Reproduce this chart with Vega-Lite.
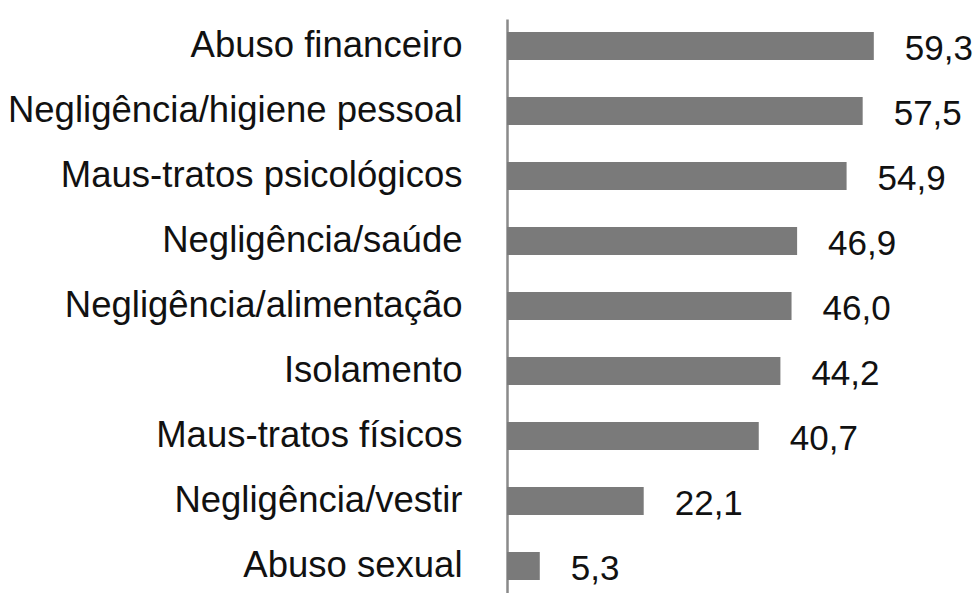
{
  "$schema": "https://vega.github.io/schema/vega-lite/v6.json",
  "autosize": {"type": "none"},
  "width": 433,
  "height": 574,
  "padding": {"left": 507, "top": 19, "right": 39, "bottom": 0},
  "background": "white",
  "config": {
    "view": {"stroke": null},
    "locale": {"number": {"decimal": ",", "thousands": ".", "grouping": [3], "currency": ["R$", ""]}},
    "font": "Liberation Sans"
  },
  "data": {
    "values": [
      {"categoria": "Abuso financeiro", "pct": 59.3},
      {"categoria": "Negligência/higiene pessoal", "pct": 57.5},
      {"categoria": "Maus-tratos psicológicos", "pct": 54.9},
      {"categoria": "Negligência/saúde", "pct": 46.9},
      {"categoria": "Negligência/alimentação", "pct": 46.0},
      {"categoria": "Isolamento", "pct": 44.2},
      {"categoria": "Maus-tratos físicos", "pct": 40.7},
      {"categoria": "Negligência/vestir", "pct": 22.1},
      {"categoria": "Abuso sexual", "pct": 5.3}
    ]
  },
  "encoding": {
    "y": {
      "field": "categoria",
      "type": "nominal",
      "sort": null,
      "scale": {"paddingInner": 0.57, "paddingOuter": 0.2},
      "axis": {
        "title": null,
        "ticks": false,
        "labelPadding": 45,
        "labelFontSize": 36.5,
        "labelColor": "#111111",
        "labelFont": "Liberation Sans",
        "labelLimit": 600,
        "domainColor": "#8a8a8a",
        "domainWidth": 2.5
      }
    },
    "x": {
      "field": "pct",
      "type": "quantitative",
      "scale": {"domain": [0, 70], "nice": false},
      "axis": null
    }
  },
  "layer": [
    {"mark": {"type": "bar", "color": "#7a7a7a"}},
    {
      "mark": {"type": "text", "align": "left", "baseline": "middle", "dx": 31, "dy": 3, "fontSize": 35, "color": "#111111", "font": "Liberation Sans"},
      "encoding": {"text": {"field": "pct", "type": "quantitative", "format": ".1f"}}
    }
  ]
}
